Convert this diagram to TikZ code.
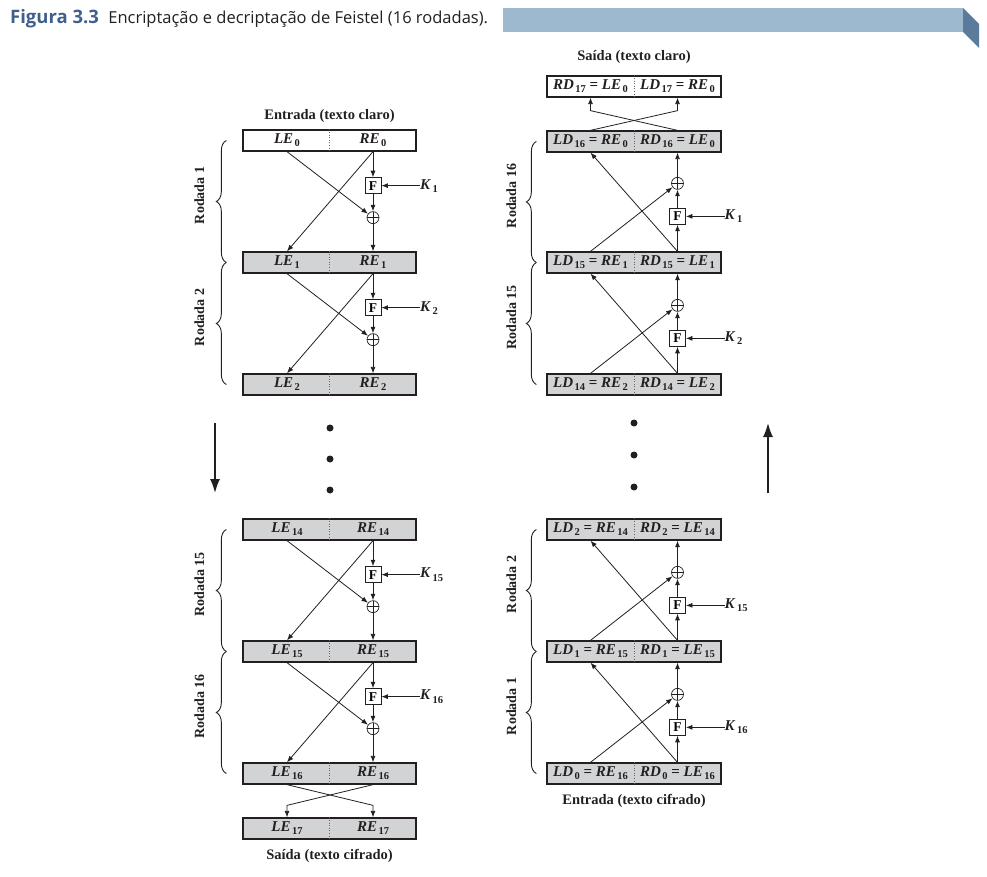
\documentclass[tikz,border=0pt]{standalone}
\usepackage{fontspec}
\setmainfont{Liberation Serif}
\newfontfamily\capfont{Open Sans}
\usetikzlibrary{arrows.meta,positioning,calc,decorations.pathreplacing}
\definecolor{boxgray}{HTML}{D1D3D4}
\definecolor{figblue}{HTML}{3F5F8F}
\definecolor{barblue}{HTML}{9DB9CF}
\definecolor{bardark}{HTML}{5A7B9B}
\definecolor{ink}{HTML}{231F20}
\newcommand{\vlab}[2]{\textbf{\textit{#1}}\kern1.5pt\raisebox{-0.45ex}{\fontsize{10.5}{10.5}\selectfont\bfseries #2}}
\tikzset{
  blk/.style={draw=ink, line width=1.3pt, minimum width=173pt, minimum height=21pt, inner sep=0pt, fill=boxgray},
  lbl/.style={font=\fontsize{15}{15}\selectfont, inner sep=0pt, text=ink},
  hd/.style={font=\fontsize{14.5}{14.5}\selectfont\bfseries, text=ink, inner sep=0pt},
  fbx/.style={draw=ink, fill=white, line width=0.8pt, minimum size=16pt, inner sep=0pt, font=\fontsize{13.5}{13.5}\selectfont\bfseries},
  xor/.style={circle, draw=ink, fill=white, line width=0.7pt, minimum size=12pt, inner sep=0pt,
    path picture={\draw[ink, line width=0.6pt] (path picture bounding box.north) -- (path picture bounding box.south)
      (path picture bounding box.west) -- (path picture bounding box.east);}},
  arr/.style={-{Latex[length=6.5pt,width=5pt]}, line width=0.8pt, draw=ink},
  bigarr/.style={-{Latex[length=14pt,width=10pt]}, line width=1.6pt, draw=ink},
  div/.style={dotted, draw=ink!70, line width=0.6pt},
  brc/.style={decorate, decoration={brace, amplitude=10pt}, line width=0.9pt, draw=ink},
  rod/.style={rotate=90, font=\fontsize{14}{14}\selectfont\bfseries, text=ink},
  dot/.style={circle, fill=ink, inner sep=0pt, minimum size=7pt},
}
\begin{document}
\begin{tikzpicture}[x=1pt, y=-1pt]
  \useasboundingbox (0,0) rectangle (987,877);
  % caption bar
  \node[anchor=west, inner sep=0pt, font=\capfont\fontsize{18.5}{18.5}\selectfont\bfseries, text=figblue] (fig) at (10,19) {Figura 3.3};
  \node[anchor=west, inner sep=0pt, font=\capfont\fontsize{16.5}{16.5}\selectfont, text=ink, right=9pt of fig] (cap) {Encriptação e decriptação de Feistel (16 rodadas).};
  \fill[barblue] (503,8) rectangle (963,32);
  \fill[bardark] (963,8) -- (979,24) -- (979,48) -- (963,32) -- cycle;

  % encryption (left)
  \foreach \n/\yy/\fc in {0/140.5/white, 1/262.5/boxgray, 2/384.5/boxgray, 14/529.5/boxgray,
                          15/651.5/boxgray, 16/773.5/boxgray, 17/828.5/boxgray} {
    \node[blk, fill=\fc] (be\n) at (329.5,\yy) {};
    \draw[div] (be\n.north) -- (be\n.south);
    \node[lbl] (el\n) at (287,\yy) {\vlab{LE}{\n}};
    \node[lbl] (er\n) at (373,\yy) {\vlab{RE}{\n}};
  }
  \foreach \a/\b/\k in {0/1/1, 1/2/2, 14/15/15, 15/16/16} {
    \node[fbx] (fe\a) at ($(er\a |- be\a.south)+(0,34)$) {F};
    \node[xor] (xe\a) at ($(er\a |- be\a.south)+(0,66)$) {};
    \node[lbl, anchor=west] (ke\a) at ($(fe\a)+(47,0)$) {\vlab{K}{\k}};
    \draw[arr] (er\a |- be\a.south) -- (fe\a);
    \draw[arr] (fe\a) -- (xe\a);
    \draw[arr] (xe\a) -- (er\b |- be\b.north);
    \draw[arr] (er\a |- be\a.south) -- (el\b |- be\b.north);
    \draw[arr] (el\a |- be\a.south) -- (xe\a);
    \draw[arr] (ke\a) -- (fe\a);
  }
  \foreach \a/\b/\t in {0/1/Rodada 1, 1/2/Rodada 2, 14/15/Rodada 15, 15/16/Rodada 16} {
    \draw[brc] ($(be\b.west)+(-16,0)$) -- ($(be\a.west)+(-16,0)$);
    \node[rod] (re\a) at ($(be\a.west)!0.5!(be\b.west)+(-43,-6)$) {\t};
  }
  \coordinate (sw1) at ($(er17 |- be17.north)+(0,-12)$);
  \coordinate (sw2) at ($(el17 |- be17.north)+(0,-12)$);
  \draw[arr] (el16 |- be16.south) -- (sw1) -- (er17 |- be17.north);
  \draw[arr] (er16 |- be16.south) -- (sw2) -- (el17 |- be17.north);
  \node[hd, above=7pt of be0] (ein) {Entrada (texto claro)};
  \node[hd, below=9pt of be17] (eout) {Saída (texto cifrado)};

  % decryption (right)
  \node[blk, fill=white, minimum width=174pt] (bd17) at (634,86.5) {};
  \draw[div] (bd17.north) -- (bd17.south);
  \node[lbl] (dl17) at (590.5,86.5) {\vlab{RD}{17} \textbf{=} \vlab{LE}{0}};
  \node[lbl] (dr17) at (677.5,86.5) {\vlab{LD}{17} \textbf{=} \vlab{RE}{0}};
  \foreach \n/\e/\yy in {16/0/141.5, 15/1/262.5, 14/2/384.5, 2/14/529.5, 1/15/651.5, 0/16/773.5} {
    \node[blk, minimum width=174pt] (bd\n) at (634,\yy) {};
    \draw[div] (bd\n.north) -- (bd\n.south);
    \node[lbl] (dl\n) at (590.5,\yy) {\vlab{LD}{\n} \textbf{=} \vlab{RE}{\e}};
    \node[lbl] (dr\n) at (677.5,\yy) {\vlab{RD}{\n} \textbf{=} \vlab{LE}{\e}};
  }
  \foreach \a/\b/\k in {15/16/1, 14/15/2, 1/2/15, 0/1/16} {
    \node[fbx] (fd\a) at ($(dr\a |- bd\a.north)+(0,-35)$) {F};
    \node[xor] (xd\a) at ($(dr\a |- bd\a.north)+(0,-68)$) {};
    \node[lbl, anchor=west] (kd\a) at ($(fd\a)+(47,0)$) {\vlab{K}{\k}};
    \draw[arr] (dr\a |- bd\a.north) -- (fd\a);
    \draw[arr] (fd\a) -- (xd\a);
    \draw[arr] (xd\a) -- (dr\b |- bd\b.south);
    \draw[arr] (dr\a |- bd\a.north) -- (dl\b |- bd\b.south);
    \draw[arr] (dl\a |- bd\a.north) -- (xd\a);
    \draw[arr] (kd\a) -- (fd\a);
  }
  \foreach \a/\b/\t in {15/16/Rodada 16, 14/15/Rodada 15, 1/2/Rodada 2, 0/1/Rodada 1} {
    \draw[brc] ($(bd\a.west)+(-10,0)$) -- ($(bd\b.west)+(-10,0)$);
    \node[rod] (rd\a) at ($(bd\a.west)!0.5!(bd\b.west)+(-35,-6)$) {\t};
  }
  \coordinate (sw3) at ($(dr17 |- bd17.south)+(0,13)$);
  \coordinate (sw4) at ($(dl17 |- bd17.south)+(0,13)$);
  \draw[arr] (dl16 |- bd16.north) -- (sw3) -- (dr17 |- bd17.south);
  \draw[arr] (dr16 |- bd16.north) -- (sw4) -- (dl17 |- bd17.south);
  \node[hd, above=12pt of bd17] (dout) {Saída (texto claro)};
  \node[hd, below=9pt of bd0] (din) {Entrada (texto cifrado)};

  % ellipsis and direction
  \foreach \yy [count=\i] in {428,459,490} \node[dot] (pe\i) at (330,\yy) {};
  \foreach \yy [count=\i] in {423,455,487} \node[dot] (pd\i) at (634,\yy) {};
  \coordinate (dn1) at (215,423);
  \coordinate (dn2) at (215,493);
  \coordinate (up1) at (768,493);
  \coordinate (up2) at (768,423);
  \draw[bigarr] (dn1) -- (dn2);
  \draw[bigarr] (up1) -- (up2);
\end{tikzpicture}
\end{document}
